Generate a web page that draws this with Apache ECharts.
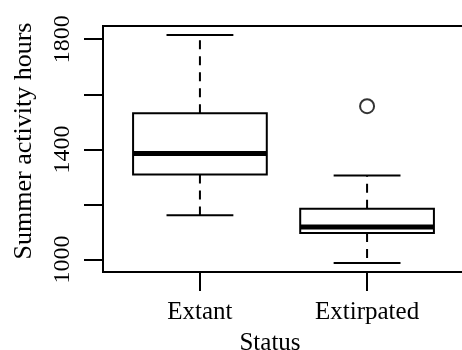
<!DOCTYPE html>
<html>
<head>
<meta charset="utf-8">
<script src="https://cdn.jsdelivr.net/npm/echarts@6/dist/echarts.min.js"></script>
<style>
html, body { margin: 0; padding: 0; background: #fff; }
#chart { width: 462px; height: 350px; }
</style>
</head>
<body>
<div id="chart"></div>
<script>
// ---- data ----
const categories = ['Extant', 'Extirpated'];
const whiskerLow = [1161, 988];
const boxLow = [1309, 1097];
const medians = [1385, 1118];
const boxHigh = [1531, 1185];
const whiskerHigh = [1815, 1305];
const outlierGroup = [2];
const outlierValues = [1557];
const yTicks = [1000, 1200, 1400, 1600, 1800];
const yLabels = [1000, 1400, 1800];
const xTitle = 'Status';
const yTitle = 'Summer activity hours';

const FONT = 'Liberation Serif';
const boxData = categories.map((c, i) => [i + 1, whiskerLow[i], boxLow[i], medians[i], boxHigh[i], whiskerHigh[i]]);
const outlierData = outlierGroup.map((g, i) => [g, outlierValues[i]]);

function renderBox(params, api) {
  const x = api.value(0);
  const lo = api.value(1), q1 = api.value(2), med = api.value(3), q3 = api.value(4), hi = api.value(5);
  const pLo = api.coord([x, lo]);
  const pQ1 = api.coord([x, q1]);
  const pMed = api.coord([x, med]);
  const pQ3 = api.coord([x, q3]);
  const pHi = api.coord([x, hi]);
  const bl = api.coord([x - 0.4, med])[0];
  const br = api.coord([x + 0.4, med])[0];
  const cl = api.coord([x - 0.2, med])[0];
  const cr = api.coord([x + 0.2, med])[0];
  const cx = pMed[0];
  const solid = { stroke: '#000', lineWidth: 2, fill: null };
  const dashed = { stroke: '#000', lineWidth: 2, lineDash: [9, 7], fill: null };
  return {
    type: 'group',
    children: [
      { type: 'line', shape: { x1: cx, y1: pQ3[1], x2: cx, y2: pHi[1] }, style: dashed },
      { type: 'line', shape: { x1: cx, y1: pQ1[1], x2: cx, y2: pLo[1] }, style: dashed },
      { type: 'line', shape: { x1: cl, y1: pHi[1], x2: cr, y2: pHi[1] }, style: solid },
      { type: 'line', shape: { x1: cl, y1: pLo[1], x2: cr, y2: pLo[1] }, style: solid },
      { type: 'rect', shape: { x: bl, y: pQ3[1], width: br - bl, height: pQ1[1] - pQ3[1] },
        style: { stroke: '#000', lineWidth: 2, fill: '#fff' } },
      { type: 'line', shape: { x1: bl, y1: pMed[1], x2: br, y2: pMed[1] },
        style: { stroke: '#000', lineWidth: 5 } }
    ]
  };
}

const chart = echarts.init(document.getElementById('chart'), null, { renderer: 'canvas' });
chart.setOption({
  animation: false,
  backgroundColor: '#fff',
  grid: {
    left: 103, top: 26, width: 361, height: 246,
    outerBoundsMode: 'none', containLabel: false,
    show: true, borderColor: '#000', borderWidth: 2, backgroundColor: 'transparent'
  },
  xAxis: {
    type: 'value', min: 0.42, max: 2.58,
    splitLine: { show: false },
    axisLine: { show: false },
    axisTick: { show: true, length: 19, lineStyle: { color: '#000', width: 2 }, customValues: [1, 2] },
    axisLabel: {
      customValues: [1, 2], color: '#000', fontFamily: FONT, fontSize: 25, margin: 28,
      formatter: v => categories[Math.round(v) - 1]
    },
    name: xTitle, nameLocation: 'middle', nameGap: 59,
    nameTextStyle: { color: '#000', fontFamily: FONT, fontSize: 25, padding: [0, 27, 0, 0] }
  },
  yAxis: {
    type: 'value', min: 955, max: 1848,
    splitLine: { show: false },
    axisLine: { show: false },
    axisTick: { show: true, length: 19, lineStyle: { color: '#000', width: 2 }, customValues: yTicks },
    axisLabel: {
      customValues: yLabels, rotate: 90, color: '#000', fontFamily: FONT, fontSize: 24, margin: 28,
      formatter: v => String(v)
    },
    name: yTitle, nameLocation: 'middle', nameGap: 66, nameRotate: 90,
    nameTextStyle: { color: '#000', fontFamily: FONT, fontSize: 26, padding: [0, 0, 0, 16] }
  },
  series: [
    {
      type: 'custom',
      renderItem: renderBox,
      data: boxData,
      encode: { x: 0, y: [1, 2, 3, 4, 5] },
      clip: false
    },
    {
      type: 'scatter',
      data: outlierData,
      symbol: 'circle',
      symbolSize: 14,
      itemStyle: { color: '#fff', borderColor: '#000', borderWidth: 2 }
    }
  ]
});
</script>
</body>
</html>
